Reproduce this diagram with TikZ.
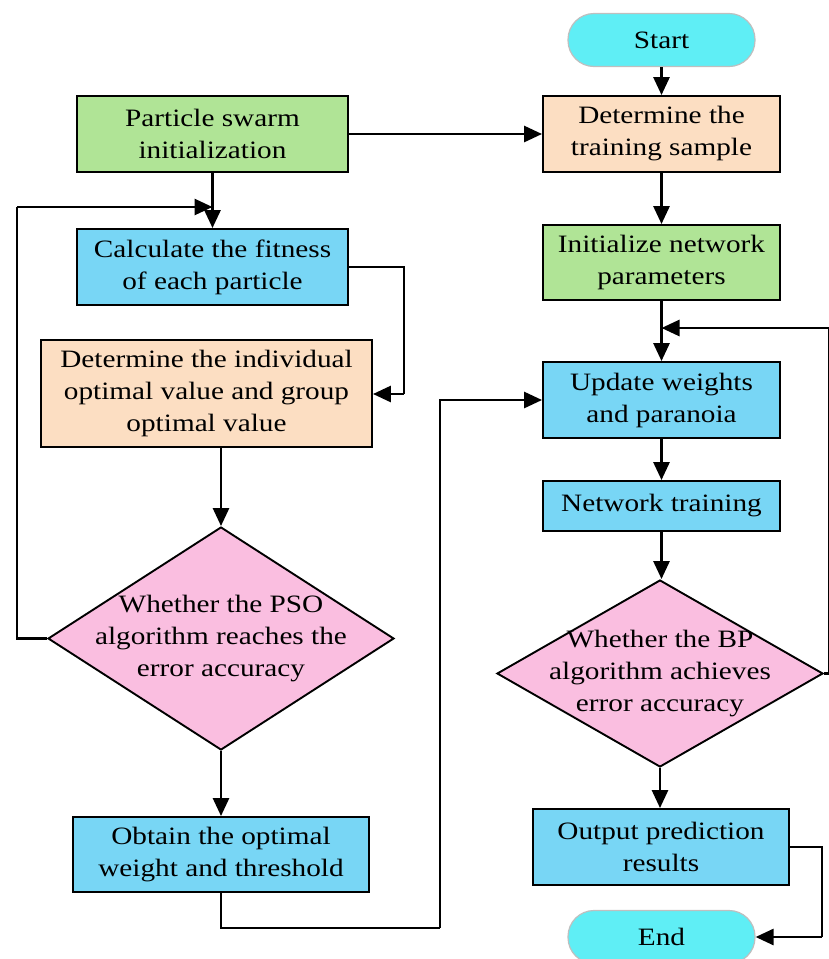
\documentclass[tikz,border=0pt]{standalone}
\usepackage{fontspec}
\setmainfont[FakeStretch=1.17]{Liberation Serif}
\usetikzlibrary{arrows.meta,shapes.geometric}
\definecolor{termfill}{RGB}{95,238,245}
\definecolor{bluefill}{RGB}{120,214,245}
\definecolor{greenfill}{RGB}{176,228,150}
\definecolor{peachfill}{RGB}{252,222,194}
\definecolor{pinkfill}{RGB}{250,190,224}
\tikzset{
  every node/.style={font=\fontsize{25}{32}\selectfont, align=center, inner sep=0pt},
  procbox/.style={draw=black, line width=1.9pt, rectangle},
  termbox/.style={draw=black!25, line width=1.2pt, rectangle, rounded corners=26pt, fill=termfill,
                  minimum width=187pt, minimum height=53pt},
  decision/.style={draw=black, line width=1.9pt, diamond, fill=pinkfill},
  link/.style={line width=2.8pt, draw=black},
  arr/.style={link, -{Triangle[length=18pt,width=16pt]}},
}
\begin{document}
\begin{tikzpicture}[x=1pt,y=-1pt]
\useasboundingbox (0,0) rectangle (829,959);

% right column: BP network
\node[termbox] (start) at (661.5,40) {Start};
\node[procbox, fill=peachfill, minimum width=237pt, minimum height=76pt] (sample) at (661.5,134) {Determine the\\training sample};
\node[procbox, fill=greenfill, minimum width=237pt, minimum height=75pt] (init) at (661.5,262.5) {Initialize network\\parameters};
\node[procbox, fill=bluefill, minimum width=237pt, minimum height=76pt] (upd) at (661.5,400) {Update weights\\and paranoia};
\node[procbox, fill=bluefill, minimum width=237pt, minimum height=50pt] (train) at (661.5,506) {Network training};
\node[decision, minimum width=326pt, minimum height=187pt] (bp) at (660,673.5) {};
\node (bptext) at (bp.center) {Whether the BP\\algorithm achieves\\error accuracy};
\node[procbox, fill=bluefill, minimum width=256pt, minimum height=76pt] (out) at (661,847) {Output prediction\\results};
\node[termbox] (end) at (661.5,937) {End};

% left column: PSO
\node[procbox, fill=greenfill, minimum width=271pt, minimum height=76pt] (pinit) at (212.5,134) {Particle swarm\\initialization};
\node[procbox, fill=bluefill, minimum width=271pt, minimum height=76pt] (fit) at (212.5,267) {Calculate the fitness\\of each particle};
\node[procbox, fill=peachfill, minimum width=331pt, minimum height=107pt] (best) at (206.5,393.5) {Determine the individual\\optimal value and group\\optimal value};
\node[decision, minimum width=346pt, minimum height=223pt] (pso) at (221,638.5) {};
\node (psotext) at (pso.center) {Whether the PSO\\algorithm reaches the\\error accuracy};
\node[procbox, fill=bluefill, minimum width=296pt, minimum height=75pt] (optw) at (221,854.5) {Obtain the optimal\\weight and threshold};

% bend points
\coordinate (psoloop) at (17,207);
\coordinate (fitbend) at (404,394);
\coordinate (optdown) at (221,928);
\coordinate (optbend) at (440,928);
\coordinate (bploop) at (829,328);
\coordinate (outbend) at (822,937);

% connectors
\draw[arr] (start) -- (sample);
\draw[arr] (pinit) -- (sample);
\draw[arr] (sample) -- (init);
\draw[arr] (init) -- (upd);
\draw[arr] (upd) -- (train);
\draw[arr] (train.south) -- (train.south |- bp.north);
\draw[arr] (bp.south) -- (out.north -| bp.south);
\draw[link] (bp.east) -| (bploop);
\draw[arr] (bploop) -- (init.south |- bploop);
\draw[link] (out.east) -| (outbend);
\draw[arr] (outbend) -- (end.east);

\draw[arr] (pinit) -- (fit);
\draw[link] (pso.west) -| (psoloop);
\draw[arr] (psoloop) -- (fit.north |- psoloop);
\draw[link] (fit.east) -| (fitbend);
\draw[arr] (fitbend) -- (best.east |- fitbend);
\draw[arr] (best.south -| pso.north) -- (pso.north);
\draw[arr] (pso.south) -- (optw.north);
\draw[link] (optw.south) -- (optdown) -- (optbend);
\draw[arr] (optbend) |- (upd.west);
\end{tikzpicture}
\end{document}
